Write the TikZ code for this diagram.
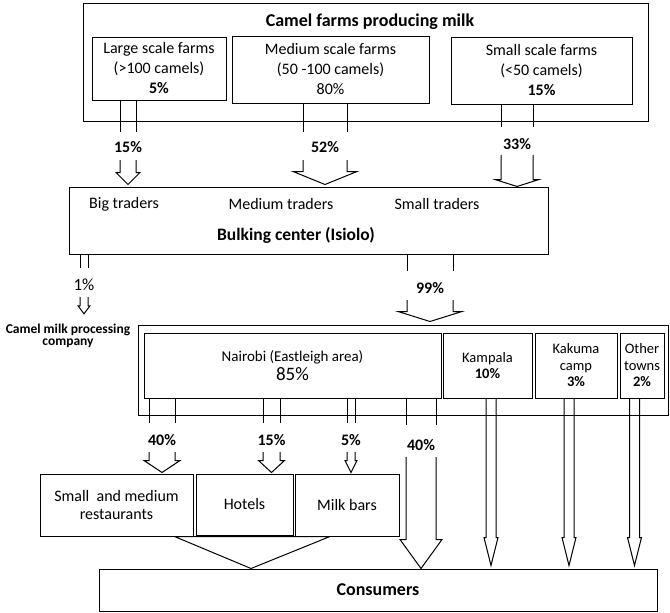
\documentclass[tikz,border=0pt]{standalone}
\usepackage{fontspec}
\setmainfont{Carlito}
\usepackage{tikz}

\tikzset{
  box/.style={draw, line width=1pt, inner sep=0pt, align=center},
  farmtext/.style={font=\fontsize{16}{20}\selectfont},
  towntext/.style={font=\fontsize{14.5}{16.5}\selectfont},
  pct/.style={font=\fontsize{16}{18}\selectfont\bfseries, inner sep=1pt},
  heading/.style={font=\fontsize{18}{20}\selectfont\bfseries, inner sep=0pt},
  flow/.style={line width=1pt}
}

\begin{document}
\begin{tikzpicture}[x=1pt, y=-1pt]
    \useasboundingbox (0,0) rectangle (670,613);

    % draw farm boxes
    \node[box, minimum width=565pt, minimum height=118pt] (farms) at (365.5,62) {};
    \node[heading] (farmstitle) at (370,22) {Camel farms producing milk};
    \node[box, farmtext, minimum width=134pt, minimum height=63pt] (large) at (159,68.5)
      {Large scale farms\\(>100 camels)\\\textbf{5\%}};
    \node[box, farmtext, minimum width=197pt, minimum height=67pt] (medium) at (330.5,69.5)
      {Medium scale farms\\(50 -100 camels)\\80\%};
    \node[box, farmtext, minimum width=181pt, minimum height=67pt] (small) at (541.5,70.5)
      {Small scale farms\\(<50 camels)\\\textbf{15\%}};

    % draw bulking center
    \node[box, minimum width=479pt, minimum height=67pt] (bulk) at (308.5,220.5) {};
    \node[farmtext] (bigtr) at (124,204) {Big traders};
    \node[farmtext] (medtr) at (281,204) {Medium traders};
    \node[farmtext] (smalltr) at (437,204) {Small traders};
    \node[heading, font=\fontsize{17.5}{20}\selectfont\bfseries] (bulktitle) at (296,235) {Bulking center (Isiolo)};
    \node[align=center, inner sep=0pt, font=\fontsize{13.5}{12.5}\selectfont\bfseries] (proc) at (68,336)
      {Camel milk processing\\company};

    % draw destination towns
    \node[box, minimum width=530pt, minimum height=90pt] (dist) at (403,370) {};
    \node[box, minimum width=297pt, minimum height=65pt, font=\fontsize{15}{18}\selectfont] (nairobi) at (292.5,365.5)
      {Nairobi (Eastleigh area)\\[1pt]{\fontsize{19}{22}\selectfont 85\%}};
    \node[box, towntext, minimum width=89pt, minimum height=65pt] (kampala) at (487.5,365.5) {Kampala\\\textbf{10\%}};
    \node[box, towntext, minimum width=82pt, minimum height=65pt] (kakuma) at (576,365.5) {Kakuma\\camp\\\textbf{3\%}};
    \node[box, towntext, minimum width=44pt, minimum height=65pt] (other) at (642,365.5) {Other\\towns\\\textbf{2\%}};

    % draw retail boxes and consumers
    \node[box, font=\fontsize{16}{18.5}\selectfont, minimum width=153pt, minimum height=62pt] (restaurants) at (116.5,505)
      {Small\ \ and medium\\restaurants};
    \node[box, farmtext, minimum width=97pt, minimum height=61pt] (hotels) at (244.5,504.5) {Hotels};
    \node[box, farmtext, minimum width=104pt, minimum height=62pt] (milkbars) at (347,505) {Milk bars};
    \node[box, heading, minimum width=558pt, minimum height=42pt] (consumers) at (378,590) {Consumers};

    % draw percentages
    \node[pct] (l15) at (128,147) {15\%};
    \node[pct] (l52) at (325,147) {52\%};
    \node[pct] (l33) at (517,144) {33\%};
    \node[pct, font=\fontsize{17}{18}\selectfont] (l1) at (84,285) {1\%};
    \node[pct] (l99) at (430,288) {99\%};
    \node[pct] (l40a) at (162,440) {40\%};
    \node[pct] (l15b) at (271.5,440) {15\%};
    \node[pct] (l5) at (351,440) {5\%};
    \node[pct] (l40b) at (421,445) {40\%};

    % draw hollow arrows through the percentages
    \foreach \lab/\src/\dst/\s/\h/\hh/\ga/\gb/\tg in {
        l15/large/bulk/8/12/12/15/13/2, l52/medium/bulk/22/32/13/15/13/2,
        l33/small/bulk/16/22/7/17/11/0, l1/bulk/proc/4/6/8/17/12/10,
        l99/bulk/dist/23/32/10/17/12/3, l40a/nairobi/restaurants/13/18/12/17/12/1,
        l15b/nairobi/hotels/8.5/13/12/17/12/1, l5/nairobi/milkbars/4/6/12/17/12/1,
        l40b/nairobi/consumers/15/21/29/20/12/0}
    {
      \draw[flow] ([xshift=-\s]\lab.center |- \src.south) -- ([xshift=-\s,yshift=\ga]\lab.center);
      \draw[flow] ([xshift=\s]\lab.center |- \src.south) -- ([xshift=\s,yshift=\ga]\lab.center);
      \draw[flow] ([xshift=-\s,yshift=-\gb]\lab.center)
        -- ([xshift=-\s,yshift=\tg+\hh]\lab.center |- \dst.north)
        -- ([xshift=-\h,yshift=\tg+\hh]\lab.center |- \dst.north)
        -- ([yshift=\tg]\lab.center |- \dst.north)
        -- ([xshift=\h,yshift=\tg+\hh]\lab.center |- \dst.north)
        -- ([xshift=\s,yshift=\tg+\hh]\lab.center |- \dst.north)
        -- ([xshift=\s,yshift=-\gb]\lab.center);
    }

    % draw long arrows from the towns
    \foreach \b/\dx in {kampala/3.5,kakuma/-7,other/-7.5}
      \draw[flow] ([xshift=\dx-5]\b.south)
        -- ([xshift=\dx-5,yshift=31]\b.south |- consumers.north)
        -- ([xshift=\dx-7,yshift=31]\b.south |- consumers.north)
        -- ([xshift=\dx,yshift=3]\b.south |- consumers.north)
        -- ([xshift=\dx+7,yshift=31]\b.south |- consumers.north)
        -- ([xshift=\dx+5,yshift=31]\b.south |- consumers.north)
        -- ([xshift=\dx+5]\b.south);

    % draw joint arrow to consumers
    \draw[flow] ([xshift=-19]restaurants.south east) -- ([xshift=-17]milkbars.south)
      -- ([xshift=6.5]hotels.south |- consumers.north) -- cycle;
\end{tikzpicture}
\end{document}
